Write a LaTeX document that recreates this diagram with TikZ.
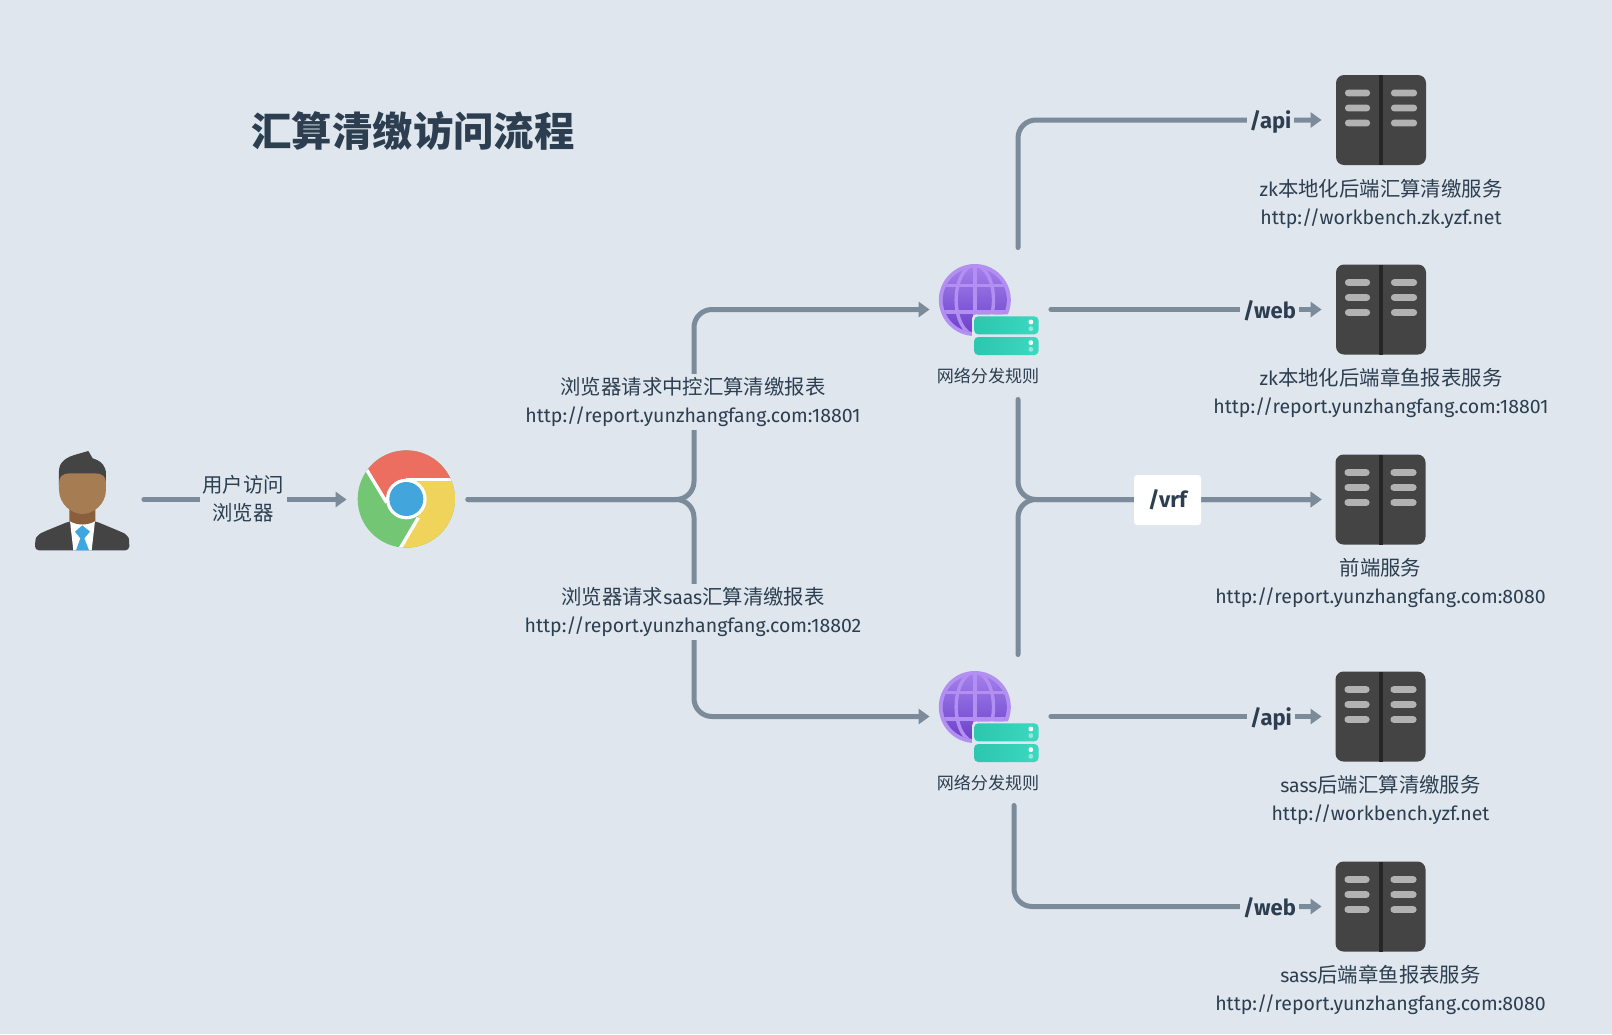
\documentclass[tikz,border=0pt]{standalone}
\usepackage{fontspec}
\setmainfont{Fira Sans}
\newfontfamily\cjk[Scale=1.046]{Noto Sans CJK SC}
\usetikzlibrary{arrows.meta}
\definecolor{bgc}{HTML}{DFE6EE}
\definecolor{linec}{HTML}{7B8B9A}
\definecolor{textc}{HTML}{2C3E50}
\definecolor{darkc}{HTML}{444444}
\tikzset{
  flow/.style={draw=linec,line width=2.5pt,line cap=round,rounded corners=9pt,shorten <=1.25pt,-{Triangle[length=5.5pt,width=7.5pt]}},
  icon/.style={minimum width=59pt,minimum height=59pt,inner sep=0pt},
  txt/.style={text=textc,font=\fontsize{9.75}{14}\selectfont,align=center,inner sep=0pt},
  gap/.style={txt,fill=bgc,inner ysep=0pt},
  route/.style={text=textc,font=\fontsize{11}{14}\selectfont\bfseries,fill=bgc,inner sep=0pt,minimum height=15pt},
  pics/srvicon/.style={code={
    \fill[darkc,rounded corners=4pt] (-45,-45) rectangle (45,45);
    \fill[black!85] (-2,-45) rectangle (2,45);
    \foreach \yy in {-27,-12,3}{
      \fill[black!30,rounded corners=1.5pt] (-36,\yy-3.3) rectangle (-11,\yy+3.3);
      \fill[black!30,rounded corners=1.5pt] (10,\yy-3.3) rectangle (36,\yy+3.3);
    }
  }},
}
\newcommand{\globeicon}[1]{%
  \begin{scope}[shift={#1},scale=1/3]
    \fill[color={rgb,255:red,178;green,143;blue,240}] (190,177) circle[radius=108];
    \begin{scope}
      \clip (190,177) circle[radius=96];
      \shade[top color={rgb,255:red,165;green,130;blue,236},bottom color={rgb,255:red,104;green,62;blue,200}] (80,70) rectangle (300,285);
      \begin{scope}[draw={rgb,255:red,178;green,143;blue,240},line width=1.7pt]
        \draw (70,133) -- (310,133);
        \draw (70,213) -- (310,213);
        \draw (190,60) -- (190,300);
        \draw (190,177) ellipse[x radius=56,y radius=104];
      \end{scope}
    \end{scope}
    \fill[bgc,rounded corners=2pt] (182,220) rectangle (387,348);
    \foreach \yy/\hh in {226/280,288/342}{
      \shade[left color={rgb,255:red,45;green,198;blue,175},right color={rgb,255:red,60;green,216;blue,192},rounded corners=2pt] (188,\yy) rectangle (381,\hh);
      \fill[white,rounded corners=1pt] (351,\yy+10) rectangle (365,\yy+24);
      \fill[white,opacity=.45,rounded corners=1pt] (351,\yy+30) rectangle (365,\yy+44);
    }
  \end{scope}
}
\begin{document}
\begin{tikzpicture}[x=0.5pt,y=-0.5pt]
\useasboundingbox (0,-1) rectangle (1612,1033);
\fill[bgc] (0,-1) rectangle (1612,1033);

% person
\begin{scope}[shift={(0,420)},scale=1/3]
  \fill[darkc,rounded corners=2pt] (105,388) -- (105,365) .. controls (108,348) and (120,338) .. (132,332) -- (210,300) -- (285,300) -- (362,332) .. controls (375,338) and (386,348) .. (388,365) -- (388,388) -- cycle;
  \fill[white] (210,300) -- (285,300) -- (275,388) -- (220,388) -- cycle;
  \fill[color={rgb,255:red,138;green,95;blue,60}] (208,250) -- (286,250) -- (286,300) .. controls (262,314) and (232,314) .. (208,300) -- cycle;
  \fill[color={rgb,255:red,63;green,167;blue,223}] (225,332) -- (247,313) -- (270,332) -- (253,352) -- (267,388) -- (228,388) -- (241,352) -- cycle;
  \fill[darkc] (177,190) -- (177,150) .. controls (177,122) and (200,108) .. (230,100) -- (265,90) -- (278,112) .. controls (305,120) and (318,135) .. (318,160) -- (318,190) -- cycle;
  \fill[color={rgb,255:red,166;green,124;blue,82}] (177,185) .. controls (177,165) and (190,157) .. (210,157) -- (285,157) .. controls (305,157) and (318,165) .. (318,185) -- (318,205) .. controls (318,250) and (280,279) .. (247,279) .. controls (215,279) and (177,250) .. (177,205) -- cycle;
\end{scope}

% browser
\begin{scope}[shift={(0,420)},scale=1/3]
  \begin{scope}
    \clip (1219,234) circle[radius=146];
    \fill[color={rgb,255:red,114;green,198;blue,116}] (1060,70) rectangle (1380,400);
    \fill[color={rgb,255:red,235;green,110;blue,96}] (1160,250) -- (1040,55) -- (1400,55) -- (1400,176) -- (1219,176) -- cycle;
    \fill[color={rgb,255:red,239;green,211;blue,90}] (1219,176) -- (1400,176) -- (1400,400) -- (1190,400) -- (1255,290) -- cycle;
    \draw[white,line width=1.7pt] (1219,176) -- (1400,176);
    \draw[white,line width=1.7pt] (1160,245) -- (1090,130);
    \draw[white,line width=1.7pt] (1255,290) -- (1190,400);
  \end{scope}
  \fill[white] (1219,234) circle[radius=61];
  \fill[color={rgb,255:red,66;green,165;blue,220}] (1219,234) circle[radius=51];
\end{scope}

\globeicon{(911.5,240)}
\globeicon{(911.5,647)}

\pic at (1381,119) {srvicon};
\pic at (1381,308.5) {srvicon};
\pic at (1380.5,498.5) {srvicon};
\pic at (1380.5,715.5) {srvicon};
\pic at (1380.5,905.5) {srvicon};

% anchor boxes
\node[icon] (user) at (82,498.5) {};
\node[icon] (chrome) at (406,498.5) {};
\node[icon] (globeA) at (989,308.5) {};
\node[icon] (globeB) at (989,715.5) {};
\node[icon] (srvA) at (1381,119) {};
\node[icon] (srvB) at (1381,308.5) {};
\node[icon] (srvC) at (1381,498.5) {};
\node[icon] (srvD) at (1381,715.5) {};
\node[icon] (srvE) at (1381,905.5) {};

\node[txt,font=\fontsize{8.15}{14}\selectfont,minimum height=22pt] (ruleA) at (988,375) {\cjk 网络分发规则};
\node[txt,font=\fontsize{8.15}{14}\selectfont,minimum height=22pt] (ruleB) at (988,782) {\cjk 网络分发规则};

\coordinate (jChrome) at (694,498.5);
\coordinate (upA) at (1018,249);
\coordinate (downA) at (1018,396);
\coordinate (upB) at (1018,656);
\coordinate (downB) at (1014,802);

% connectors
\draw[flow] (user.east) -- (chrome.west);
\draw[flow] (chrome.east) -- (jChrome) |- (globeA.west);
\draw[flow] (chrome.east) -- (jChrome) |- (globeB.west);
\draw[flow] (upA) |- (srvA.west);
\draw[flow] (globeA.east) -- (srvB.west);
\draw[flow] (downA) |- (srvC.west);
\draw[flow] (upB) |- (srvC.west);
\draw[flow] (globeB.east) -- (srvD.west);
\draw[flow] (downB) |- (srvE.west);

% labels on connectors
\node[gap,minimum width=43.5pt] (lUser) at (243,498) {{\cjk 用户访问}\\{\cjk 浏览器}};
\node[gap,minimum height=28pt] (lReqA) at (693,400.5) {{\cjk 浏览器请求中控汇算清缴报表}\\http://report.yunzhangfang.com:18801};
\node[gap,minimum height=28pt] (lReqB) at (693,610.5) {{\cjk 浏览器请求}saas{\cjk 汇算清缴报表}\\http://report.yunzhangfang.com:18802};
\node[route,minimum width=23.5pt] (rA) at (1270.5,120.5) {/api};
\node[route,minimum width=29.5pt] (rB) at (1269.5,310) {/web};
\node[route,fill=white,rounded corners=1.5pt,minimum width=33.5pt,minimum height=25pt] (rC) at (1167.5,499) {\raisebox{-1.5pt}{/vrf}};
\node[route,minimum width=24pt] (rD) at (1271,718) {/api};
\node[route,minimum width=29.5pt] (rE) at (1269.5,907) {/web};

% service captions
\node[txt] (capA) at (1381,203) {zk{\cjk 本地化后端汇算清缴服务}\\http://workbench.zk.yzf.net};
\node[txt] (capB) at (1381,392) {zk{\cjk 本地化后端章鱼报表服务}\\http://report.yunzhangfang.com:18801};
\node[txt] (capC) at (1380.5,582) {{\cjk 前端服务}\\http://report.yunzhangfang.com:8080};
\node[txt] (capD) at (1380.5,799) {sass{\cjk 后端汇算清缴服务}\\http://workbench.yzf.net};
\node[txt] (capE) at (1380.5,989) {sass{\cjk 后端章鱼报表服务}\\http://report.yunzhangfang.com:8080};

\node[text=textc,inner sep=0pt,font=\fontsize{19.3}{24}\selectfont\bfseries] (title) at (413,130) {\cjk 汇算清缴访问流程};
\end{tikzpicture}
\end{document}
